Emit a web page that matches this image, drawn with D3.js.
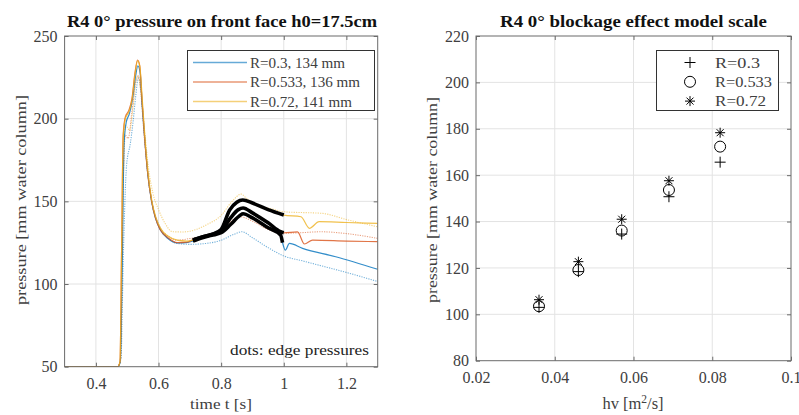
<!DOCTYPE html>
<html>
<head>
<meta charset="utf-8">
<script src="https://cdn.jsdelivr.net/npm/d3@7"></script>
<style>
body { margin: 0; background: #fff; }
text { font-family: "Liberation Serif", "Times New Roman", serif; fill: #404040; }
.title { font-weight: bold; fill: #111; }
</style>
</head>
<body>
<div id="chart"></div>
<script>
// left panel: pressure time series [t (s), p (mm)]
var blueSolid = [[0.3,50],[0.47,50],[0.478,53],[0.484,110],[0.49,185],[0.497,198],[0.507,203],[0.517,212],[0.527,226],[0.534,232],[0.541,228],[0.548,208],[0.556,188],[0.566,166],[0.578,150],[0.59,140],[0.605,133],[0.63,127.5],[0.66,124.8],[0.69,125],[0.71,126],[0.74,128],[0.77,129.5],[0.8,131],[0.83,136],[0.86,141.5],[0.87,142.5],[0.9,140],[0.95,134],[0.99,129.6],[0.996,125],[1.005,120.5],[1.018,124.6],[1.06,121.6],[1.166,116.5],[1.3,108.9]];
var orangeSolid = [[0.3,50],[0.47,50],[0.477,53],[0.482,120],[0.487,190],[0.494,201],[0.505,205],[0.515,212],[0.525,228],[0.533,235.5],[0.54,232],[0.547,212],[0.555,190],[0.565,168],[0.578,150],[0.59,140],[0.605,133],[0.63,128],[0.66,125],[0.69,125.3],[0.71,126.6],[0.74,128.5],[0.77,130],[0.8,132],[0.83,140],[0.855,145],[0.87,146],[0.9,143],[0.95,137],[0.99,131.6],[1.0,131],[1.044,131.5],[1.066,124.2],[1.092,126.6],[1.2,126],[1.3,125.6]];
var yellowSolid = [[0.3,50],[0.47,50],[0.477,53],[0.482,120],[0.487,188],[0.494,200],[0.505,204],[0.515,211],[0.525,227],[0.533,235],[0.54,232],[0.548,212],[0.556,190],[0.566,168],[0.579,150],[0.592,140],[0.607,133.5],[0.63,129],[0.66,126.5],[0.69,126],[0.71,126.6],[0.74,128.5],[0.77,130],[0.8,133],[0.827,144.7],[0.85,149.5],[0.869,150.8],[0.9,149],[0.95,145],[1.0,141.7],[1.055,140.7],[1.082,133.7],[1.113,137.7],[1.2,137.2],[1.3,136.7]];
var blueEdge = [[0.3,50],[0.47,50],[0.48,55],[0.488,120],[0.498,172],[0.51,185],[0.518,197],[0.528,215],[0.535,224.5],[0.542,220],[0.55,200],[0.56,178],[0.57,160],[0.58,148],[0.6,136],[0.63,128],[0.66,124.5],[0.7,124],[0.75,124.5],[0.8,126.5],[0.84,130],[0.866,131.6],[0.9,128],[0.95,122],[1.0,117],[1.06,114],[1.1,112],[1.2,107],[1.3,101.5]];
var orangeEdge = [[0.3,50],[0.47,50],[0.479,55],[0.486,150],[0.494,190],[0.503,188],[0.515,204],[0.527,222],[0.535,226],[0.544,215],[0.554,190],[0.565,167],[0.578,150],[0.59,141],[0.605,134],[0.63,129],[0.66,126.5],[0.7,127.5],[0.75,129],[0.8,133],[0.86,140.7],[0.9,138],[0.95,133],[1.0,130.7],[1.05,131],[1.12,131.6],[1.2,130.5],[1.3,127.6]];
var yellowEdge = [[0.3,50],[0.47,50],[0.479,55],[0.486,150],[0.494,196],[0.508,193],[0.518,206],[0.528,223],[0.535,226],[0.545,214],[0.556,192],[0.568,170],[0.582,155],[0.6,145],[0.62,137],[0.645,131.6],[0.68,131.5],[0.72,133],[0.752,135.7],[0.8,141.5],[0.835,150],[0.864,154.4],[0.88,152],[0.92,147],[0.954,145.8],[1.0,143.7],[1.124,142.7],[1.2,139],[1.3,134.6]];
var highlightStart = 0.71, highlightEnd = 1.0;
var seriesNames = ["R=0.3, 134 mm", "R=0.533, 136 mm", "R=0.72, 141 mm"];
var tTicks = [0.4, 0.6, 0.8, 1, 1.2];
var pTicks = [50, 100, 150, 200, 250];

// right panel: blockage effect
var hv = [0.036, 0.046, 0.057, 0.069, 0.082];
var pR03 = [103, 118.4, 134.6, 150.7, 165.6];
var pR0533 = [103.5, 119.1, 136.1, 153.6, 172.3];
var pR072 = [106.3, 122.7, 141, 157.6, 178.3];
var markerNames = ["R=0.3", "R=0.533", "R=0.72"];
var hvTicks = [0.02, 0.04, 0.06, 0.08, 0.1];
var p2Ticks = [80, 100, 120, 140, 160, 180, 200, 220];

var colors = ["#0072BD", "#D95319", "#EDB120"];
var W = 799, H = 415;
var svg = d3.select("#chart").append("svg").attr("width", W).attr("height", H);

var gridCol = "#e3e3e3", axCol = "#6b6b6b";

// stretch a text to the width it has in the picture
function fit(sel, w) {
  sel.attr("textLength", w).attr("lengthAdjust", "spacingAndGlyphs");
  return sel;
}

// ---------- left panel
var x1 = d3.scaleLinear().domain([0.3, 1.3]).range([64.6, 377.7]);
var y1 = d3.scaleLinear().domain([50, 250]).range([366.7, 36]);
var g1 = svg.append("g");

g1.selectAll(".gx").data(tTicks).enter().append("line")
  .attr("x1", d => x1(d)).attr("x2", d => x1(d)).attr("y1", y1(50)).attr("y2", y1(250))
  .attr("stroke", gridCol).attr("stroke-width", 1);
g1.selectAll(".gy").data(pTicks.slice(1, -1)).enter().append("line")
  .attr("x1", x1(0.3)).attr("x2", x1(1.3)).attr("y1", d => y1(d)).attr("y2", d => y1(d))
  .attr("stroke", gridCol).attr("stroke-width", 1);

svg.append("clipPath").attr("id", "c1").append("rect")
  .attr("x", x1(0.3)).attr("y", y1(250)).attr("width", x1(1.3) - x1(0.3)).attr("height", y1(50) - y1(250));

var line1 = d3.line().x(d => x1(d[0])).y(d => y1(d[1])).curve(d3.curveMonotoneX);
var plot1 = g1.append("g").attr("clip-path", "url(#c1)");

var edges = [blueEdge, orangeEdge, yellowEdge];
var solids = [blueSolid, orangeSolid, yellowSolid];

edges.forEach(function(s, i) {
  plot1.append("path").datum(s).attr("d", line1)
    .attr("fill", "none").attr("stroke", colors[i]).attr("stroke-width", 1.1)
    .attr("stroke-dasharray", "1.2 1.2").attr("stroke-opacity", 0.55);
});
solids.forEach(function(s, i) {
  plot1.append("path").datum(s).attr("d", line1)
    .attr("fill", "none").attr("stroke", colors[i]).attr("stroke-width", 1.2)
    .attr("stroke-opacity", 0.8);
});
// thick black over the wave-reflection part
solids.forEach(function(s) {
  var part = s.filter(d => d[0] >= highlightStart && d[0] <= highlightEnd);
  plot1.append("path").datum(part).attr("d", line1)
    .attr("fill", "none").attr("stroke", "#000").attr("stroke-width", 3.6)
    .attr("stroke-linejoin", "round");
});

g1.append("rect").attr("x", x1(0.3)).attr("y", y1(250))
  .attr("width", x1(1.3) - x1(0.3)).attr("height", y1(50) - y1(250))
  .attr("fill", "none").attr("stroke", axCol).attr("stroke-width", 1);

g1.append("g").attr("transform", "translate(0," + y1(50) + ")")
  .call(d3.axisBottom(x1).tickValues(tTicks).tickSize(-4).tickPadding(11).tickFormat(d3.format("")));
g1.append("g").attr("transform", "translate(0," + y1(250) + ")")
  .call(d3.axisTop(x1).tickValues(tTicks).tickSize(-4).tickFormat(""));
g1.append("g").attr("transform", "translate(" + x1(0.3) + ",0)")
  .call(d3.axisLeft(y1).tickValues(pTicks).tickSize(-4).tickPadding(7));
g1.append("g").attr("transform", "translate(" + x1(1.3) + ",0)")
  .call(d3.axisRight(y1).tickValues(pTicks).tickSize(-4).tickFormat(""));

// legend left
var legW1 = [95, 110, 102];
var lg1 = g1.append("g");
lg1.append("rect").attr("x", 187.5).attr("y", 50.5).attr("width", 187).attr("height", 60)
  .attr("fill", "#fff").attr("stroke", "#333").attr("stroke-width", 1);
seriesNames.forEach(function(n, i) {
  var yy = 62.5 + i * 19.5;
  lg1.append("line").attr("x1", 193).attr("x2", 247).attr("y1", yy).attr("y2", yy)
    .attr("stroke", colors[i]).attr("stroke-width", 1.5).attr("stroke-opacity", 0.6);
  fit(lg1.append("text").attr("x", 250).attr("y", yy + 5).attr("font-size", 14.5).text(n), legW1[i]);
});

fit(g1.append("text").attr("x", 230).attr("y", 355)
  .attr("font-size", 15.5).style("fill", "#222").text("dots: edge pressures"), 139);

fit(g1.append("text").attr("class", "title").attr("x", 67).attr("y", 27)
  .attr("font-size", 16.5).text("R4 0\u00b0 pressure on front face h0=17.5cm"), 310);
fit(g1.append("text").attr("x", 190).attr("y", 409)
  .attr("font-size", 15.5).text("time t [s]"), 62);
fit(g1.append("text").attr("transform", "translate(26,305) rotate(-90)")
  .attr("font-size", 15.5).text("pressure [mm water column]"), 210);

// ---------- right panel
var x2 = d3.scaleLinear().domain([0.02, 0.1]).range([476, 791]);
var y2 = d3.scaleLinear().domain([80, 220]).range([360.7, 36]);
var g2 = svg.append("g");

g2.selectAll(".gx").data(hvTicks.slice(1, -1)).enter().append("line")
  .attr("x1", d => x2(d)).attr("x2", d => x2(d)).attr("y1", y2(80)).attr("y2", y2(220))
  .attr("stroke", gridCol);
g2.selectAll(".gy").data(p2Ticks.slice(1, -1)).enter().append("line")
  .attr("x1", x2(0.02)).attr("x2", x2(0.1)).attr("y1", d => y2(d)).attr("y2", d => y2(d))
  .attr("stroke", gridCol);

g2.append("rect").attr("x", x2(0.02)).attr("y", y2(220))
  .attr("width", x2(0.1) - x2(0.02)).attr("height", y2(80) - y2(220))
  .attr("fill", "none").attr("stroke", axCol).attr("stroke-width", 1);

g2.append("g").attr("transform", "translate(0," + y2(80) + ")")
  .call(d3.axisBottom(x2).tickValues(hvTicks).tickSize(-4).tickPadding(11).tickFormat(d3.format("")));
g2.append("g").attr("transform", "translate(0," + y2(220) + ")")
  .call(d3.axisTop(x2).tickValues(hvTicks).tickSize(-4).tickFormat(""));
g2.append("g").attr("transform", "translate(" + x2(0.02) + ",0)")
  .call(d3.axisLeft(y2).tickValues(p2Ticks).tickSize(-4).tickPadding(7));
g2.append("g").attr("transform", "translate(" + x2(0.1) + ",0)")
  .call(d3.axisRight(y2).tickValues(p2Ticks).tickSize(-4).tickFormat(""));

function plusPath(s) { return "M" + (-s) + ",0H" + s + "M0," + (-s) + "V" + s; }
function starPath(s) {
  var a = s * 0.7;
  return "M" + (-s) + ",0H" + s + "M0," + (-s) + "V" + s +
    "M" + (-a) + "," + (-a) + "L" + a + "," + a + "M" + (-a) + "," + a + "L" + a + "," + (-a);
}
var markers = [
  function(g) { g.append("path").attr("d", plusPath(5.5)); },
  function(g) { g.append("circle").attr("r", 5.5); },
  function(g) { g.append("path").attr("d", starPath(5)); }
];
var rseries = [pR03, pR0533, pR072];
rseries.forEach(function(vals, i) {
  hv.forEach(function(h, j) {
    var m = g2.append("g").attr("transform", "translate(" + x2(h) + "," + y2(vals[j]) + ")")
      .attr("fill", "none").attr("stroke", "#000").attr("stroke-width", 1);
    markers[i](m);
  });
});

// legend right
var legW2 = [45, 57, 51];
var lg2 = g2.append("g");
lg2.append("rect").attr("x", 656.5).attr("y", 50.5).attr("width", 122).attr("height", 60)
  .attr("fill", "#fff").attr("stroke", "#333").attr("stroke-width", 1);
markerNames.forEach(function(n, i) {
  var yy = 62.5 + i * 19.3;
  var m = lg2.append("g").attr("transform", "translate(690," + yy + ")")
    .attr("fill", "none").attr("stroke", "#000").attr("stroke-width", 1);
  markers[i](m);
  fit(lg2.append("text").attr("x", 715).attr("y", yy + 5).attr("font-size", 14.5).text(n), legW2[i]);
});

fit(g2.append("text").attr("class", "title").attr("x", 500).attr("y", 27)
  .attr("font-size", 16.5).text("R4 0\u00b0 blockage effect model scale"), 267);
var xl = g2.append("text").attr("x", 633).attr("y", 409).attr("text-anchor", "middle").attr("font-size", 16.5);
xl.append("tspan").text("hv [m");
xl.append("tspan").attr("dy", -6).attr("font-size", 11.5).text("2");
xl.append("tspan").attr("dy", 6).text("/s]");
fit(g2.append("text").attr("transform", "translate(437,303) rotate(-90)")
  .attr("font-size", 15.5).text("pressure [mm water column]"), 206);

// axis styling
svg.selectAll(".domain").remove();
svg.selectAll(".tick line").attr("stroke", axCol);
svg.selectAll(".tick text").attr("font-size", 16).style("fill", "#404040")
  .attr("font-family", "Liberation Serif, serif");
</script>
</body>
</html>
